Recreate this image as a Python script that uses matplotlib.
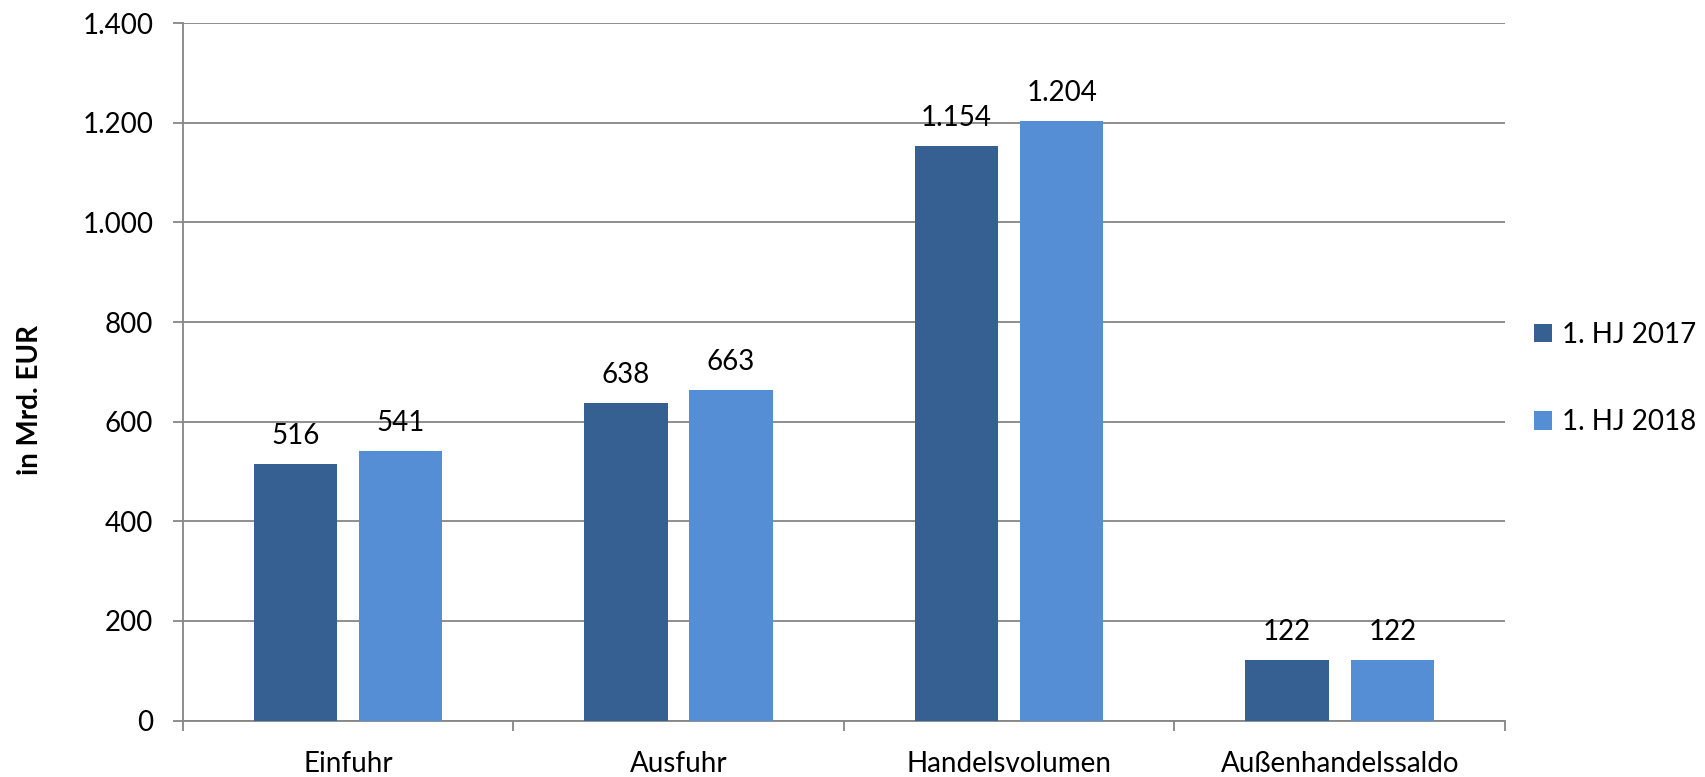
import matplotlib
matplotlib.use("Agg")
import matplotlib.pyplot as plt
import numpy as np

categories = ["Einfuhr", "Ausfuhr", "Handelsvolumen", "Außenhandelssaldo"]
series_names = ["1. HJ 2017", "1. HJ 2018"]
values_2017 = [516, 638, 1154, 122]
values_2018 = [541, 663, 1204, 122]
yticks = [0, 200, 400, 600, 800, 1000, 1200, 1400]
ylabel = "in Mrd. EUR"

colors = ["#376092", "#558ED5"]
grid_c = "#868686"

plt.rcParams['font.family'] = ['Lato', 'DejaVu Sans']
FS = 20

W, H = 1706, 777
fig = plt.figure(figsize=(W / 100, H / 100), dpi=100)
ax = fig.add_axes([182.7 / W, 1 - 720.5 / H, (1505 - 182.7) / W, (720.5 - 23.3) / H])

def fmt(v):
    return f"{v:,}".replace(",", ".")

centers = np.arange(len(categories)) + 0.5
off = 0.159
bw = 0.252
for vals, dx, col, name in [(values_2017, -off, colors[0], series_names[0]),
                            (values_2018, off, colors[1], series_names[1])]:
    bars = ax.bar(centers + dx, vals, width=bw, color=col, label=name, zorder=3)
    for b, v in zip(bars, vals):
        ax.annotate(fmt(v), (b.get_x() + b.get_width() / 2, v), xytext=(0, 14.4),
                    textcoords="offset points", ha="center", va="baseline",
                    fontsize=FS, color="black", zorder=4)

ax.set_xlim(0, len(categories))
ax.set_ylim(0, 1400)
ax.set_yticks(yticks)
ax.set_yticklabels([fmt(t) for t in yticks])
ax.yaxis.grid(True, color=grid_c, linewidth=1.3, zorder=0)
ax.set_axisbelow(True)

ax.set_xticks(np.arange(len(categories) + 1))
ax.set_xticklabels([])
ax.set_xticks(centers, minor=True)
ax.set_xticklabels(categories, minor=True)
ax.tick_params(axis='x', which='major', length=7.2, width=1.3, color=grid_c, direction='out')
ax.tick_params(axis='x', which='minor', length=0, pad=22, labelsize=FS)
ax.tick_params(axis='y', length=7.2, width=1.3, color=grid_c, pad=14, labelsize=FS)

for s in ['top', 'right']:
    ax.spines[s].set_visible(False)
for s in ['left', 'bottom']:
    ax.spines[s].set_color(grid_c)
    ax.spines[s].set_linewidth(1.3)

fig.text(30 / W, 1 - 400 / H, ylabel, rotation=90, ha='center', va='center',
         fontsize=FS, fontweight='bold')

handles, labels = ax.get_legend_handles_labels()
fig.legend(handles, labels, loc='center left', bbox_to_anchor=(1534 / W, 1 - 378.5 / H),
           frameon=False, fontsize=FS, handlelength=0.65, handleheight=0.65,
           handletextpad=0.36, labelspacing=2.2, borderpad=0, borderaxespad=0)

fig.savefig("out.png", dpi=100)
